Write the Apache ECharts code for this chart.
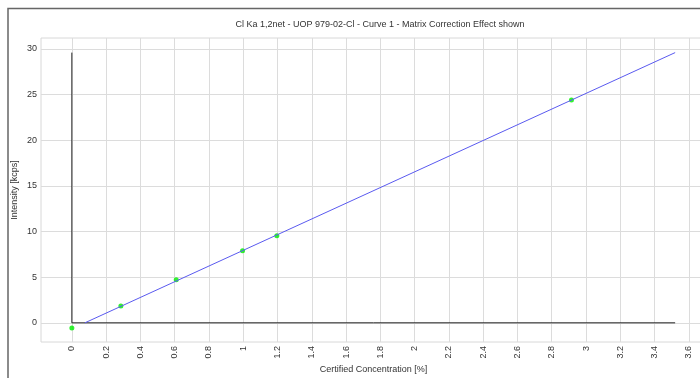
<!DOCTYPE html>
<html>
<head>
<meta charset="utf-8">
<script src="https://cdn.jsdelivr.net/npm/echarts@6/dist/echarts.min.js"></script>
<style>
html,body{margin:0;padding:0;background:#fff;}
#main{width:700px;height:378px;}
</style>
</head>
<body>
<div id="main"></div>
<script>
// Data
const titleText = 'Cl Ka 1,2net - UOP 979-02-Cl - Curve 1 - Matrix Correction Effect shown';
const xAxisName = 'Certified Concentration [%]';
const yAxisName = 'Intensity [kcps]';
const xTicks = [0,0.2,0.4,0.6,0.8,1,1.2,1.4,1.6,1.8,2,2.2,2.4,2.6,2.8,3,3.2,3.4,3.6];
const yTicks = [0,5,10,15,20,25,30];
const standardsX = [0.0, 0.286, 0.609, 0.996, 1.196, 2.915];
const standardsY = [-0.58, 1.83, 4.71, 7.89, 9.53, 24.4];
const curveX = [0.076, 3.52];
const curveY = [0.0, 29.6];
const zeroAxisVX = [0, 0];
const zeroAxisVY = [0, 29.6];
const zeroAxisHX = [0, 3.52];
const zeroAxisHY = [0, 0];

const zip = (a, b) => a.map((v, i) => [v, b[i]]);

const chart = echarts.init(document.getElementById('main'), null, {renderer: 'canvas'});
const fontFam = '"Liberation Sans", Arial, sans-serif';
chart.setOption({
  animation: false,
  backgroundColor: '#fff',
  title: {
    text: titleText,
    left: 375, top: 15, textAlign: 'center',
    textStyle: {fontSize: 9, fontWeight: 'normal', color: '#333', fontFamily: fontFam}
  },
  graphic: [{
    type: 'rect', silent: true,
    shape: {x: 8, y: 8.5, width: 760, height: 420},
    style: {fill: null, stroke: '#666', lineWidth: 1.5}
  }],
  grid: {
    left: 41, top: 38, right: -6, bottom: 36,
    outerBoundsMode: 'none', containLabel: false,
    show: true, borderColor: '#d8d8d8', borderWidth: 1
  },
  xAxis: {
    type: 'value', min: -0.18, max: 3.7,
    name: xAxisName, nameLocation: 'middle', nameGap: 23, nameMoveOverlap: false,
    nameTextStyle: {fontSize: 9, color: '#333', fontFamily: fontFam},
    axisLine: {show: false},
    axisTick: {show: false, customValues: xTicks},
    axisLabel: {customValues: xTicks, rotate: 90, fontSize: 9, color: '#333', margin: 4, fontFamily: fontFam,
      formatter: v => String(Math.round(v * 10) / 10)},
    splitLine: {show: true, lineStyle: {color: '#dcdcdc', width: 1}}
  },
  yAxis: {
    type: 'value', min: -2.1, max: 31.2,
    name: yAxisName, nameLocation: 'middle', nameGap: 22, nameRotate: 90, nameMoveOverlap: false,
    nameTextStyle: {fontSize: 9, color: '#333', fontFamily: fontFam},
    axisLine: {show: false},
    axisTick: {show: false, customValues: yTicks},
    axisLabel: {customValues: yTicks, fontSize: 9, color: '#333', margin: 4, fontFamily: fontFam},
    splitLine: {show: true, lineStyle: {color: '#dcdcdc', width: 1}}
  },
  series: [
    {type: 'line', data: zip(zeroAxisVX, zeroAxisVY), symbol: 'none', lineStyle: {color: '#222', width: 1}, silent: true},
    {type: 'line', data: zip(zeroAxisHX, zeroAxisHY), symbol: 'none', lineStyle: {color: '#222', width: 1}, silent: true},
    {type: 'line', data: zip(curveX, curveY), symbol: 'none', lineStyle: {color: '#5a5af0', width: 1}, silent: true},
    {type: 'scatter', data: zip(standardsX, standardsY), symbol: 'circle', symbolSize: 5,
      itemStyle: {color: '#00ee00'}, silent: true}
  ]
});
</script>
</body>
</html>
